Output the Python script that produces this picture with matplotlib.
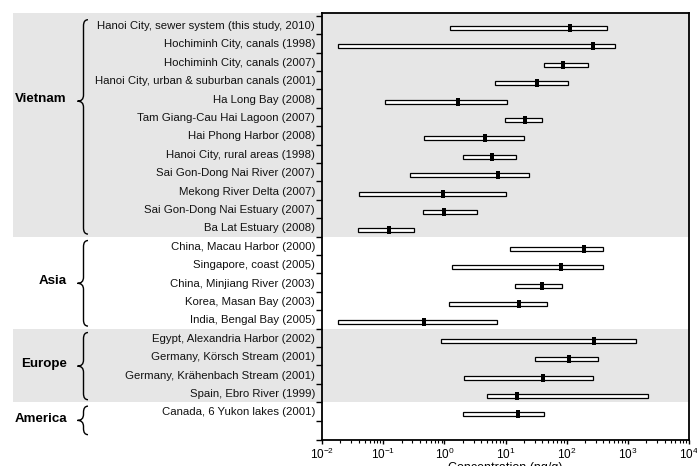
import matplotlib
matplotlib.use("Agg")
import matplotlib.pyplot as plt
from matplotlib.path import Path
from matplotlib.patches import PathPatch, Rectangle
from matplotlib.transforms import blended_transform_factory
from matplotlib.ticker import FixedLocator, LogLocator, NullFormatter
import numpy as np

plt.rcParams['font.family'] = ['Liberation Sans', 'DejaVu Sans']
plt.rcParams['mathtext.fontset'] = 'custom'
plt.rcParams['mathtext.rm'] = 'Liberation Sans'
plt.rcParams['mathtext.it'] = 'Liberation Sans:italic'
plt.rcParams['mathtext.bf'] = 'Liberation Sans:bold'

# ---------------- data ----------------
sites = [
    "Hanoi City, sewer system (this study, 2010)",
    "Hochiminh City, canals (1998)",
    "Hochiminh City, canals (2007)",
    "Hanoi City, urban & suburban canals (2001)",
    "Ha Long Bay (2008)",
    "Tam Giang-Cau Hai Lagoon (2007)",
    "Hai Phong Harbor (2008)",
    "Hanoi City, rural areas (1998)",
    "Sai Gon-Dong Nai River (2007)",
    "Mekong River Delta (2007)",
    "Sai Gon-Dong Nai Estuary (2007)",
    "Ba Lat Estuary (2008)",
    "China, Macau Harbor (2000)",
    "Singapore, coast (2005)",
    "China, Minjiang River (2003)",
    "Korea, Masan Bay (2003)",
    "India, Bengal Bay (2005)",
    "Egypt, Alexandria Harbor (2002)",
    "Germany, Körsch Stream (2001)",
    "Germany, Krähenbach Stream (2001)",
    "Spain, Ebro River (1999)",
    "Canada, 6 Yukon lakes (2001)",
]
min_vals = [1.26, 0.0183, 42.6, 6.84, 0.107, 9.96, 0.472, 2.05, 0.275, 0.0408, 0.448, 0.0394,
            12.0, 1.33, 14.5, 1.19, 0.0185,
            0.895, 30.0, 2.13, 5.06,
            2.05]
max_vals = [456, 610, 226, 105, 10.5, 39.5, 20.4, 14.7, 24.2, 10.2, 3.42, 0.315,
            393, 388, 83, 47.7, 7.37,
            1359, 325, 273, 2112,
            42]
median_vals = [115, 269, 87, 32.7, 1.65, 20.8, 4.69, 6.01, 7.45, 0.94, 0.977, 0.126,
               192, 82, 39.1, 16.4, 0.465,
               284, 108, 40.5, 15.4,
               16.3]
groups = ["Vietnam", "Asia", "Europe", "America"]
group_sizes = [12, 5, 4, 1]
group_shaded = [True, False, True, False]
x_ticks = [1e-2, 1e-1, 1e0, 1e1, 1e2, 1e3, 1e4]

# ---------------- figure ----------------
W, H = 697, 466
fig = plt.figure(figsize=(W / 100, H / 100), dpi=100)
ax_l, ax_r, ax_t, ax_b = 322, 689, 13, 440
ax = fig.add_axes([ax_l / W, 1 - ax_b / H, (ax_r - ax_l) / W, (ax_b - ax_t) / H])

n = len(sites)
y = np.arange(n)
off = 0.16  # label offset above bars
ax.set_xscale('log')
ax.set_xlim(1e-2, 1e4)
ax.set_ylim(22.39, -0.815)

trans_fy = blended_transform_factory(fig.transFigure, ax.transData)

# shaded bands
start = 0
for size, shaded in zip(group_sizes, group_shaded):
    top = start - off - 0.5
    bot = start + size - 1 - off + 0.5
    if start == 0:
        top = -0.815
    if shaded:
        r = Rectangle((13 / W, top), (ax_r - 13) / W, bot - top, transform=trans_fy,
                      facecolor='#e6e6e6', edgecolor='none', clip_on=False, zorder=0)
        ax.add_patch(r)
    start += size

# bars
lo = np.array(min_vals)
hi = np.array(max_vals)
ax.barh(y, hi - lo, left=lo, height=0.22, facecolor='white', edgecolor='black',
        linewidth=0.9, zorder=3)
marker = [(-0.28, -0.5), (0.28, -0.5), (0.28, 0.5), (-0.28, 0.5), (-0.28, -0.5)]
ax.plot(median_vals, y, linestyle='none', marker=marker, markersize=5.2,
        color='black', markeredgewidth=0, zorder=4)

# y axis
ax.set_yticks(y - off)
ax.set_yticklabels(sites, fontsize=8.2, color='#111111')
ax.tick_params(axis='y', which='major', length=0, pad=5)
bounds = list(np.arange(n) - off - 0.5) + [n - 1 - off + 0.5, 22.39]
ax.yaxis.set_minor_locator(FixedLocator(bounds))
ax.tick_params(axis='y', which='minor', length=4, width=1.0, direction='out')

# x axis
ax.xaxis.set_major_locator(FixedLocator(x_ticks))
ax.xaxis.set_minor_locator(LogLocator(base=10, subs=np.arange(2, 10)))
ax.xaxis.set_minor_formatter(NullFormatter())
ax.tick_params(axis='x', which='major', length=3, width=1.0, labelsize=8.5, pad=2)
ax.tick_params(axis='x', which='minor', length=2.2, width=0.8)
ax.set_xlabel("Concentration (ng/g)", fontsize=9, labelpad=0)

for s in ax.spines.values():
    s.set_linewidth(1.3)

# braces and group labels
def brace(y_top, y_bot, y_tip):
    xe, xv, xt = 88 / W, 83.5 / W, 77.5 / W
    r = 0.33
    verts = [(xe, y_top), (xv, y_top), (xv, y_top + r),
             (xv, y_tip - r), (xv, y_tip), (xt, y_tip),
             (xv, y_tip), (xv, y_tip + r),
             (xv, y_bot - r), (xv, y_bot), (xe, y_bot)]
    codes = [Path.MOVETO, Path.CURVE3, Path.CURVE3,
             Path.LINETO, Path.CURVE3, Path.CURVE3,
             Path.CURVE3, Path.CURVE3,
             Path.LINETO, Path.CURVE3, Path.CURVE3]
    p = PathPatch(Path(verts, codes), transform=trans_fy, facecolor='none',
                  edgecolor='black', linewidth=1.0, clip_on=False, zorder=5)
    ax.add_patch(p)

start = 0
for name, size in zip(groups, group_sizes):
    first, last = start, start + size - 1
    y_top = first - 0.45
    y_bot = max(last + 0.2, first + 1.1)
    frac = 0.38 if size > 6 else 0.5
    y_tip = y_top + frac * (y_bot - y_top)
    brace(y_top, y_bot, y_tip)
    ax.text(67 / W, y_tip - 0.1, name, transform=trans_fy, ha='right', va='center',
            fontsize=9.6, fontweight='bold')
    start += size

fig.savefig("out.png", dpi=100)
